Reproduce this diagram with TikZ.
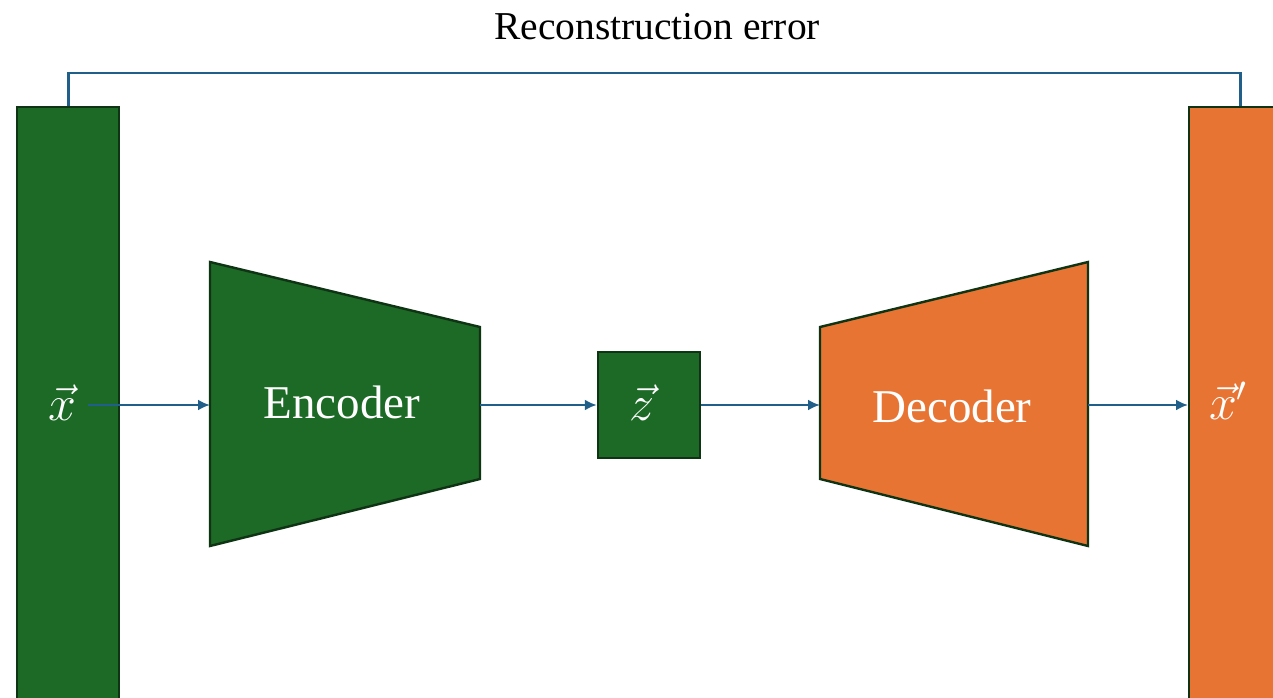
\RequirePackage{fix-cm}
\documentclass[tikz,border=0pt]{standalone}
\usepackage{fontspec}
\setmainfont{Liberation Serif}
\usetikzlibrary{arrows.meta}
\definecolor{aegreen}{RGB}{28,106,38}
\definecolor{aedark}{RGB}{14,52,20}
\definecolor{aeorange}{RGB}{232,116,52}
\definecolor{aeblue}{RGB}{31,95,138}
\tikzset{
	block/.style={draw=aedark,line width=2.4pt,line join=miter},
	flow/.style={aeblue,line width=2.8pt,-{Latex[length=12pt,width=11pt]}},
	err/.style={aeblue,line width=2.8pt},
	big/.style={white,font=\fontsize{50}{56}\selectfont},
}
\begin{document}
\begin{tikzpicture}[x=1pt,y=-1pt]
	\useasboundingbox (0,0) rectangle (1273,698);
	\clip (0,0) rectangle (1273,698);
	% input and output vectors
	\node[block,fill=aegreen,anchor=north west,minimum width=102pt,minimum height=640pt,inner sep=0pt] (xbar) at (16,106) {};
	\node[block,fill=aeorange,anchor=north west,minimum width=102pt,minimum height=640pt,inner sep=0pt] (xpbar) at (1188,106) {};
	\node[big,inner sep=0pt] (xlab) at (62,403) {$\vec{x}$};
	\node[big] (xplab) at (1228,401) {$\vec{x}'$};
	% encoder, code, decoder
	\draw[block,fill=aegreen] (210,262) -- (480,327) -- (480,479) -- (210,546) -- cycle;
	\coordinate (encin) at (210,405);
	\coordinate (encout) at (480,405);
	\node[white,font=\fontsize{47}{50}\selectfont] (enc) at (342,402) {Encoder};
	\node[block,fill=aegreen,minimum width=102pt,minimum height=106pt,inner sep=0pt] (zbox) at (649,405) {};
	\node[big] (zlab) at (642,403) {$\vec{z}$};
	\draw[block,fill=aeorange] (820,327) -- (1088,262) -- (1088,546) -- (820,479) -- cycle;
	\coordinate (decin) at (820,405);
	\coordinate (decout) at (1088,405);
	\node[white,font=\fontsize{47}{50}\selectfont] (dec) at (952,406) {Decoder};
	% connectors
	\draw[flow] ([xshift=12pt]xlab.east |- encin) -- (encin);
	\draw[flow] (encout) -- (zbox.west);
	\draw[flow] (zbox.east) -- (decin);
	\draw[flow] (decout) -- (xpbar.west |- decout);
	\draw[err] (xbar.north) -- ++(0,-33) -| (xpbar.north);
	\node[font=\fontsize{39.5}{44}\selectfont] (errlab) at (657,27) {Reconstruction error};
\end{tikzpicture}
\end{document}
